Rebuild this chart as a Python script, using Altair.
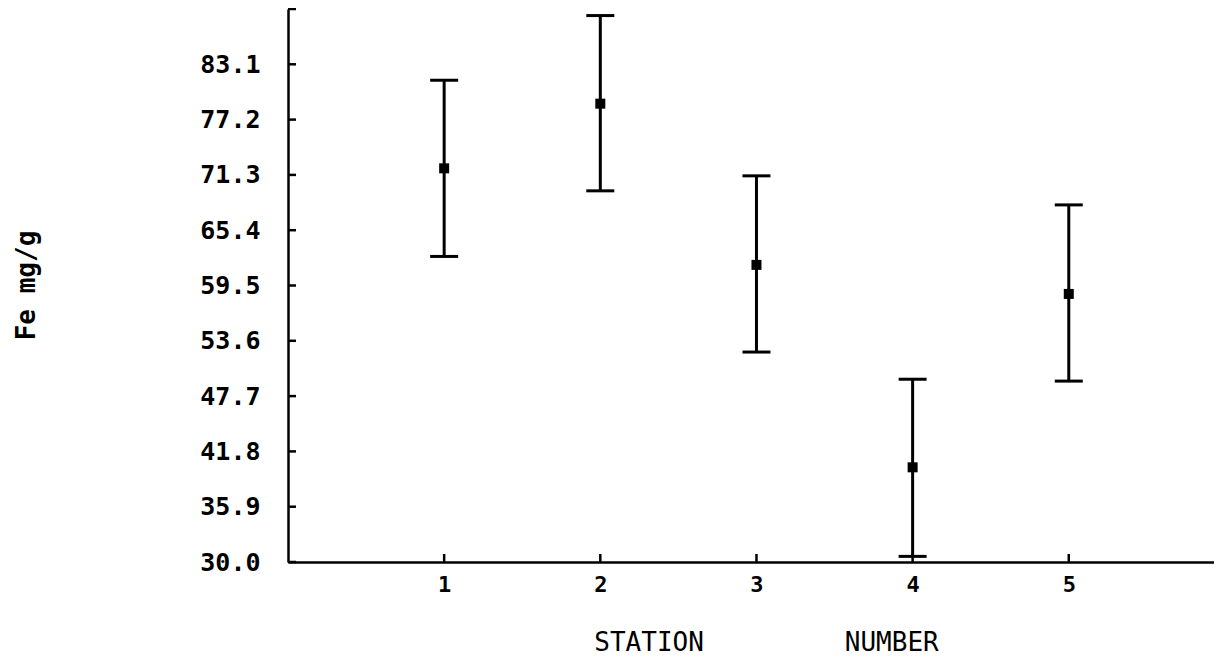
import altair as alt
import pandas as pd

# ---- data ----
stations = [1, 2, 3, 4, 5]
mean_fe = [72.0, 78.9, 61.7, 40.1, 58.6]
upper_fe = [81.4, 88.3, 71.2, 49.5, 68.1]
lower_fe = [62.6, 69.6, 52.4, 30.6, 49.3]

y_tick_labels = [30.0, 35.9, 41.8, 47.7, 53.6, 59.5, 65.4, 71.3, 77.2, 83.1]
y_axis_top = 89.0
x_tick_values = [1, 2, 3, 4, 5]

df = pd.DataFrame({"station": stations, "mean": mean_fe, "hi": upper_fe, "lo": lower_fe})
yticks_df = pd.DataFrame({"v": y_tick_labels + [y_axis_top]})
xticks_df = pd.DataFrame({"s": x_tick_values})

FONT = "DejaVu Sans Mono"
W, H = 926, 553

xscale = alt.Scale(domain=[0, 5.93], nice=False, zero=False)
yscale = alt.Scale(domain=[30.0, y_axis_top], nice=False, zero=False)

x_axis = alt.Axis(
    values=x_tick_values, format="d", grid=False, ticks=False,
    domainColor="black", domainWidth=2.5,
    labelFont=FONT, labelFontSize=22, labelFontWeight="bold", labelColor="black",
    labelPadding=12, labelBaseline="top",
    title="STATION\u00a0\u00a0\u00a0\u00a0\u00a0\u00a0\u00a0\u00a0\u00a0NUMBER",
    titleFont=FONT, titleFontSize=26, titleFontWeight="normal", titleColor="black",
    titleX=478, titleY=80, titleAlign="center", titleBaseline="middle",
)
y_axis = alt.Axis(
    values=y_tick_labels, format=".1f", grid=False, ticks=False,
    domainColor="black", domainWidth=2.5,
    labelFont=FONT, labelFontSize=25, labelFontWeight="bold", labelColor="black",
    labelPadding=28,
    title="Fe mg/g",
    titleFont=FONT, titleFontSize=26, titleFontWeight="bold", titleColor="black",
    titleX=-262, titleY=276, titleAngle=270, titleAlign="center", titleBaseline="middle",
)

base = alt.Chart(df)

bars = base.mark_rule(color="black", strokeWidth=3).encode(
    x=alt.X("station:Q", scale=xscale, axis=x_axis),
    y=alt.Y("lo:Q", scale=yscale, axis=y_axis),
    y2="hi:Q",
)
cap_hi = base.mark_tick(color="black", orient="horizontal", size=28, thickness=3, opacity=1).encode(
    x=alt.X("station:Q", scale=xscale), y=alt.Y("hi:Q", scale=yscale)
)
cap_lo = base.mark_tick(color="black", orient="horizontal", size=28, thickness=3, opacity=1).encode(
    x=alt.X("station:Q", scale=xscale), y=alt.Y("lo:Q", scale=yscale)
)
pts = base.mark_square(color="black", size=100, opacity=1).encode(
    x=alt.X("station:Q", scale=xscale), y=alt.Y("mean:Q", scale=yscale)
)

yticks = alt.Chart(yticks_df).mark_rule(color="black", strokeWidth=2.5).encode(
    y=alt.Y("v:Q", scale=yscale), x=alt.value(0), x2=alt.value(8)
)
xticks = alt.Chart(xticks_df).mark_rule(color="black", strokeWidth=2.5).encode(
    x=alt.X("s:Q", scale=xscale), y=alt.value(H), y2=alt.value(H - 8)
)

chart = (
    alt.layer(bars, cap_hi, cap_lo, pts, yticks, xticks)
    .properties(
        width=W, height=H,
        autosize=alt.AutoSizeParams(type="none"),
        padding={"left": 280, "top": 1, "right": 0, "bottom": 97},
        background="white",
    )
    .configure_view(stroke=None)
)

chart.save("out.html", embed_options={"renderer": "svg", "actions": False})
